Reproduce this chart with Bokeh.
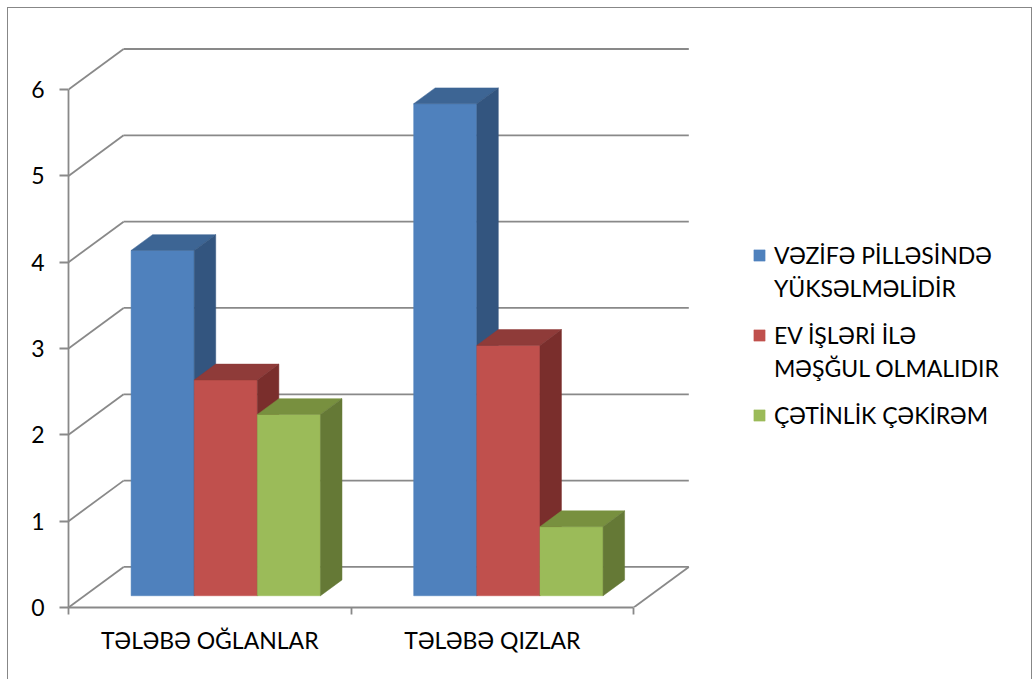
from bokeh.plotting import figure
from bokeh.models import Range1d, FixedTicker, Legend, LegendItem
from bokeh.embed import file_html
from bokeh.resources import INLINE

# ---------------- data ----------------
categories = ["TƏLƏBƏ OĞLANLAR", "TƏLƏBƏ QIZLAR"]
series_label_lines = [["VƏZİFƏ PİLLƏSİNDƏ", "YÜKSƏLMƏLİDİR"],
                      ["EV İŞLƏRİ İLƏ", "MƏŞĞUL OLMALIDIR"],
                      ["ÇƏTİNLİK ÇƏKİRƏM"]]
vezife = [4.0, 5.7]
ev_isleri = [2.5, 2.9]
cetinlik = [2.1, 0.8]
y_ticks = [0, 1, 2, 3, 4, 5, 6]

# ---------------- styles ----------------
front_colors = ["#4F81BD", "#C0504D", "#9BBB59"]
top_colors = ["#3D6594", "#8F3B39", "#78903F"]
side_colors = ["#33557F", "#7A2E2C", "#657936"]
grid_color = "#898989"
FONT = "Lato"
FS = "23px"

PX_X = 282.0     # pixels per category
PX_Y = 86.17     # pixels per unit
DX = 55.0 / PX_X       # depth offset (x, data units)
DY = 40.5 / PX_Y       # depth offset (y, data units)
F0, F1 = 0.29, 0.68    # bar depth span (fraction of floor depth)
BW = 63.0 / PX_X       # bar width

MX, MY = 7, 7          # page offset of the chart box
W, H = 1025, 672
frame_l, frame_r, frame_t, frame_b = 68, 1010, 30, 606

p = figure(width=W, height=H, output_backend="svg", toolbar_location=None,
           x_range=Range1d(0, (frame_r - frame_l) / PX_X),
           y_range=Range1d(0, (frame_b - frame_t) / PX_Y),
           min_border_left=frame_l - MX - 1,
           min_border_right=MX + W - 1 - frame_r,
           min_border_top=frame_t - MY - 1,
           min_border_bottom=MY + H - frame_b)
p.grid.visible = False
p.outline_line_color = None
p.background_fill_color = "white"
p.border_fill_color = "white"
p.styles = {"border": "1px solid #878787", "border-bottom": "none",
            "box-sizing": "border-box",
            "margin-left": f"{MX}px", "margin-top": f"{MY}px"}

ncat = len(categories)

# ---- walls / floor ----
p.segment(x0=[0] * len(y_ticks), y0=y_ticks,
          x1=[DX] * len(y_ticks), y1=[v + DY for v in y_ticks],
          line_color=grid_color, line_width=1.8)
p.segment(x0=[DX] * len(y_ticks), y0=[v + DY for v in y_ticks],
          x1=[ncat + DX] * len(y_ticks), y1=[v + DY for v in y_ticks],
          line_color=grid_color, line_width=1.8)
p.segment(x0=[ncat], y0=[0], x1=[ncat + DX], y1=[DY],
          line_color=grid_color, line_width=1.8)

# ---- bars ----
front_renderers = []
for i, vals in enumerate([vezife, ev_isleri, cetinlik]):
    fx, fy, tx, ty, sx, sy = [], [], [], [], [], []
    for c, v in enumerate(vals):
        x0 = c + 0.5 - 1.5 * BW + i * BW + F0 * DX
        x1 = x0 + BW
        b = F0 * DY
        top = v + b
        ddx = (F1 - F0) * DX
        ddy = (F1 - F0) * DY
        fx.append([x0, x1, x1, x0]); fy.append([b, b, top, top])
        tx.append([x0, x1, x1 + ddx, x0 + ddx]); ty.append([top, top, top + ddy, top + ddy])
        sx.append([x1, x1 + ddx, x1 + ddx, x1]); sy.append([b, b + ddy, top + ddy, top])
    r = p.patches(fx, fy, fill_color=front_colors[i], line_color=front_colors[i], line_width=0.5)
    p.patches(tx, ty, fill_color=top_colors[i], line_color=top_colors[i], line_width=0.5)
    p.patches(sx, sy, fill_color=side_colors[i], line_color=side_colors[i], line_width=0.5)
    front_renderers.append(r)

blank = p.patches([], [], fill_alpha=0, line_alpha=0)

# ---- axes ----
ya = p.yaxis[0]
ya.ticker = FixedTicker(ticks=y_ticks, minor_ticks=[])
ya.bounds = (0, max(y_ticks))
ya.axis_line_color = grid_color
ya.axis_line_width = 1.8
ya.major_tick_line_color = grid_color
ya.major_tick_line_width = 1.8
ya.major_tick_out = 9
ya.major_tick_in = 0
ya.major_label_standoff = 15
ya.major_label_text_font = FONT
ya.major_label_text_font_size = FS
ya.major_label_text_color = "black"

xa = p.xaxis[0]
xa.ticker = FixedTicker(ticks=[c + 0.5 for c in range(ncat)],
                        minor_ticks=list(range(ncat + 1)))
xa.bounds = (0, ncat)
xa.major_label_overrides = {c + 0.5: categories[c] for c in range(ncat)}
xa.axis_line_color = grid_color
xa.axis_line_width = 1.8
xa.major_tick_line_color = None
xa.minor_tick_line_color = grid_color
xa.minor_tick_line_width = 1.8
xa.minor_tick_out = 7
xa.minor_tick_in = 0
xa.major_label_standoff = 11
xa.major_label_text_font = FONT
xa.major_label_text_font_size = FS
xa.major_label_text_color = "black"

# ---- legend: one block per series, glyph next to the first line ----
LINE_H = 33
first_line_centers = [254, 334, 414]   # page y of first line of each entry
for i, lines in enumerate(series_label_lines):
    items = [LegendItem(label=lines[0], renderers=[front_renderers[i]])]
    for extra in lines[1:]:
        items.append(LegendItem(label=extra, renderers=[blank]))
    block_top = first_line_centers[i] - LINE_H / 2
    block_bottom = block_top + LINE_H * len(lines)
    lg = Legend(items=items, location=(752 - frame_l, frame_b - block_bottom))
    lg.border_line_color = None
    lg.background_fill_alpha = 0
    lg.padding = 0
    lg.margin = 0
    lg.spacing = 0
    lg.label_height = LINE_H
    lg.glyph_width = 14
    lg.glyph_height = 14
    lg.label_standoff = 8
    lg.label_text_font = FONT
    lg.label_text_font_size = FS
    lg.label_text_color = "black"
    p.add_layout(lg)

open("out.html", "w").write(file_html(p, INLINE))
